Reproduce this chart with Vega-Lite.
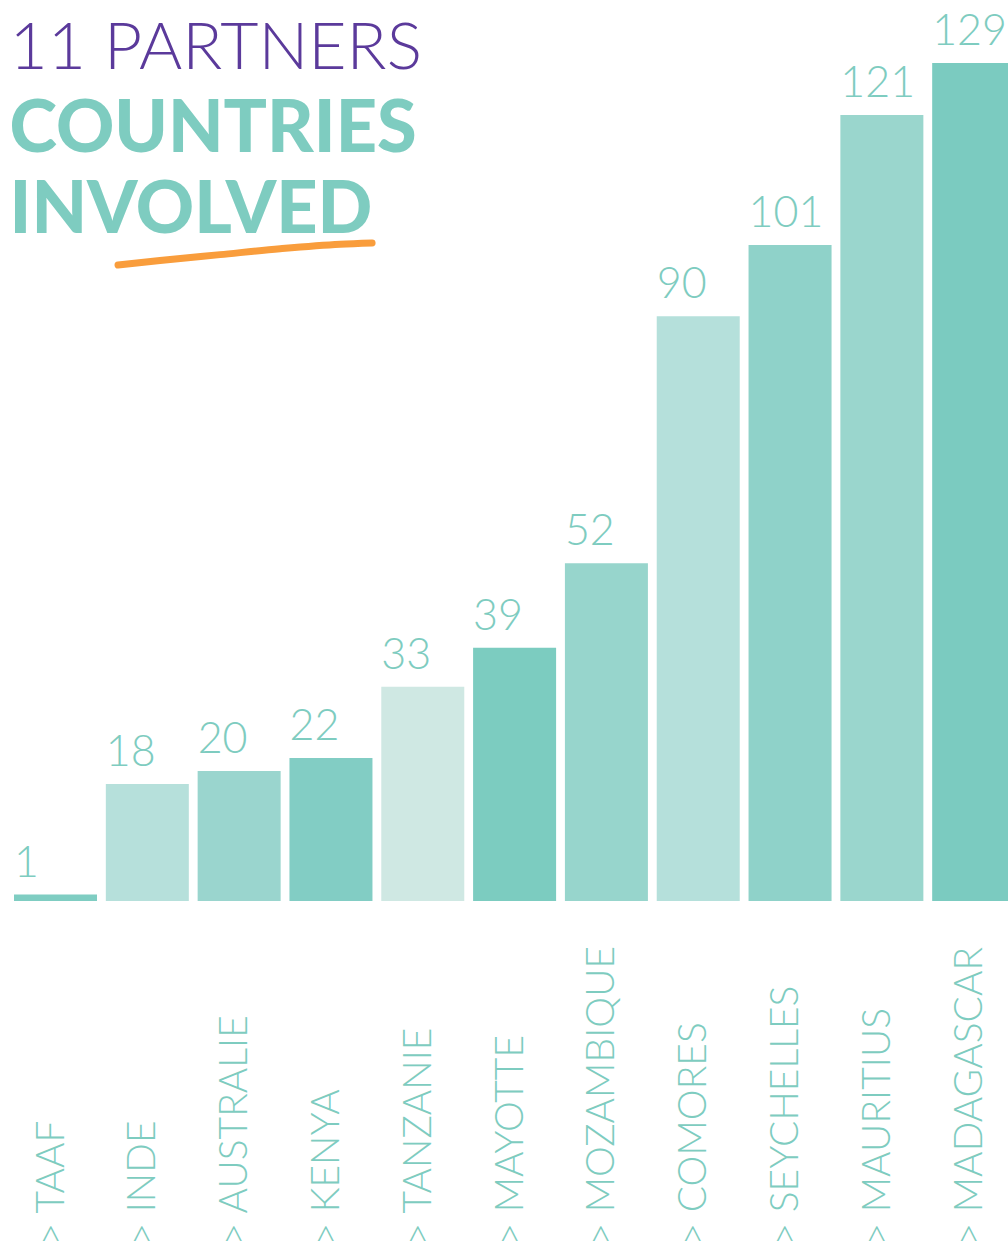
{
  "$schema": "https://vega.github.io/schema/vega-lite/v6.json",
  "width": 1010,
  "height": 838,
  "autosize": "none",
  "padding": {"left": 9.6, "top": 63, "right": 0, "bottom": 347},
  "background": "white",
  "config": {"view": {"stroke": null}},
  "title": {
    "text": "11 PARTNERS",
    "subtitle": ["COUNTRIES", "INVOLVED"],
    "anchor": "start",
    "frame": "group",
    "orient": "top",
    "offset": -237,
    "font": "Lato",
    "fontSize": 66,
    "fontWeight": 300,
    "color": "#5B3A9B",
    "subtitleFont": "Lato",
    "subtitleFontSize": 72,
    "subtitleFontWeight": 900,
    "subtitleColor": "#7ECCC0",
    "subtitleLineHeight": 81,
    "subtitlePadding": 12
  },
  "datasets": {
    "bars": [
      {"country": "TAAF", "value": 1},
      {"country": "INDE", "value": 18},
      {"country": "AUSTRALIE", "value": 20},
      {"country": "KENYA", "value": 22},
      {"country": "TANZANIE", "value": 33},
      {"country": "MAYOTTE", "value": 39},
      {"country": "MOZAMBIQUE", "value": 52},
      {"country": "COMORES", "value": 90},
      {"country": "SEYCHELLES", "value": 101},
      {"country": "MAURITIUS", "value": 121},
      {"country": "MADAGASCAR", "value": 129}
    ],
    "underline": [
      {"u": 1.181, "v": 97.9},
      {"u": 1.638, "v": 98.6},
      {"u": 2.292, "v": 99.5},
      {"u": 2.946, "v": 100.4},
      {"u": 3.600, "v": 101.1},
      {"u": 3.948, "v": 101.3}
    ]
  },
  "layer": [
    {
      "data": {"name": "bars"},
      "encoding": {
        "x": {
          "field": "country", "type": "nominal", "sort": null,
          "scale": {"paddingInner": 0.096, "paddingOuter": 0.048},
          "axis": {
            "orient": "bottom",
            "title": null, "domain": false, "ticks": false,
            "labelExpr": "'> ' + datum.label",
            "labelAngle": -90, "labelAlign": "left", "labelBaseline": "middle",
            "labelPadding": 344, "labelFont": "Lato", "labelFontSize": 39,
            "labelFontWeight": 300, "labelColor": "#7ECCC0", "labelOverlap": false,
            "labelBound": false, "labelFlush": false, "labelLimit": 0, "labelOffset": -4
          }
        },
        "y": {
          "field": "value", "type": "quantitative",
          "scale": {"domain": [0, 129], "nice": false},
          "axis": null
        }
      },
      "layer": [
        {
          "mark": {"type": "bar"},
          "encoding": {
            "color": {
              "field": "country", "type": "nominal", "sort": null, "legend": null,
              "scale": {
                "domain": ["TAAF", "INDE", "AUSTRALIE", "KENYA", "TANZANIE", "MAYOTTE", "MOZAMBIQUE", "COMORES", "SEYCHELLES", "MAURITIUS", "MADAGASCAR"],
                "range": ["#7FCDC2", "#B6E0DB", "#9AD5CE", "#82CDC4", "#CFE8E3", "#7CCCC0", "#97D5CC", "#B5E0DB", "#8FD2C9", "#9AD6CD", "#7BCBC0"]
              }
            }
          }
        },
        {
          "mark": {"type": "text", "align": "left", "baseline": "alphabetic", "dy": -18, "dx": 0, "font": "Lato", "fontSize": 43, "fontWeight": 300, "color": "#7ECCC0"},
          "encoding": {
            "x": {"field": "country", "type": "nominal", "sort": null, "bandPosition": 0},
            "text": {"field": "value", "type": "quantitative"}
          }
        }
      ]
    },
    {
      "data": {"name": "underline"},
      "mark": {"type": "line", "color": "#F99D3C", "strokeWidth": 7, "strokeCap": "round", "interpolate": "monotone"},
      "encoding": {
        "x": {"field": "u", "type": "quantitative", "scale": {"domain": [0, 11], "nice": false, "zero": false}, "axis": null},
        "y": {"field": "v", "type": "quantitative"}
      }
    }
  ],
  "resolve": {"scale": {"x": "independent"}, "axis": {"x": "independent"}}
}
